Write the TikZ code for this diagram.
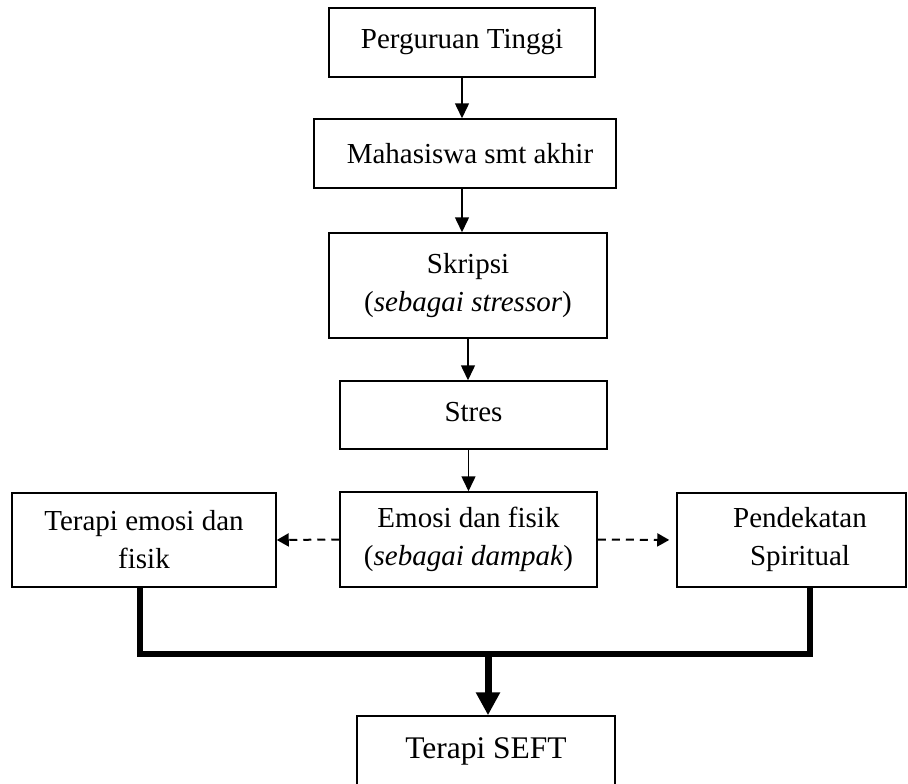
\documentclass[tikz,border=0pt]{standalone}
\usepackage{fontspec}
\setmainfont{Liberation Serif}
\usetikzlibrary{arrows.meta,calc}
\tikzset{
  boxnode/.style={draw, line width=1.5pt, align=center, inner sep=0pt,
    font=\fontsize{29pt}{38pt}\selectfont},
  thinarrow/.style={line width=1.5pt, -{Triangle[length=15pt,width=14pt]}},
  dasharrow/.style={line width=2pt, dash pattern=on 8pt off 6pt,
    -{Triangle[length=12pt,width=13pt]}},
  thickline/.style={line width=6.5pt},
  thickarrow/.style={line width=7pt, -{Triangle[length=23pt,width=23pt]}}
}
\begin{document}
\begin{tikzpicture}[x=1pt,y=-1pt]
\useasboundingbox (0,0) rectangle (908,784);
\fill[white] (0,0) rectangle (908,784);
\clip (0,0) rectangle (908,784);

\node[boxnode, minimum width=266pt, minimum height=69pt] (pt) at (462,42.5) {Perguruan Tinggi};
\node[boxnode, minimum width=302pt, minimum height=69pt] (ms) at (465,153.5) {\hspace*{10pt}Mahasiswa smt akhir};
\node[boxnode, minimum width=278pt, minimum height=105pt] (sk) at (468,285.5) {Skripsi\\(\textit{sebagai stressor})};
\node[boxnode, minimum width=267pt, minimum height=68pt] (st) at (473.5,415) {Stres\rule[-6pt]{0pt}{6pt}};
\node[boxnode, minimum width=257pt, minimum height=95pt] (em) at (468.5,539.5) {Emosi dan fisik\\(\textit{sebagai dampak})};
\node[boxnode, minimum width=264pt, minimum height=94pt] (tl) at (144,540) {Terapi emosi dan\\fisik};
\node[boxnode, minimum width=229pt, minimum height=94pt] (ps) at (791.5,540) {\hspace*{17pt}Pendekatan\\\hspace*{17pt}Spiritual};
\node[boxnode, minimum width=258pt, minimum height=70pt, font=\fontsize{31.5pt}{38pt}\selectfont] (seft) at (486,751) {Terapi SEFT};

\draw[thinarrow] (pt.south) -- (pt.south |- ms.north);
\draw[thinarrow] (pt.south |- ms.south) -- (pt.south |- sk.north);
\draw[thinarrow] (sk.south) -- (sk.south |- st.north);
\draw[thinarrow] (em.north |- st.south) -- (em.north);

\draw[dasharrow] (em.west) -- (tl.east);
\draw[dasharrow, shorten >=7pt] (em.east) -- (ps.west);

\coordinate (j) at (488,654);
\draw[thickline] ([xshift=-4pt]tl.south) |- (j) -| ([xshift=18.5pt]ps.south);
\draw[thickarrow] (j) -- (j |- seft.north);
\end{tikzpicture}
\end{document}
